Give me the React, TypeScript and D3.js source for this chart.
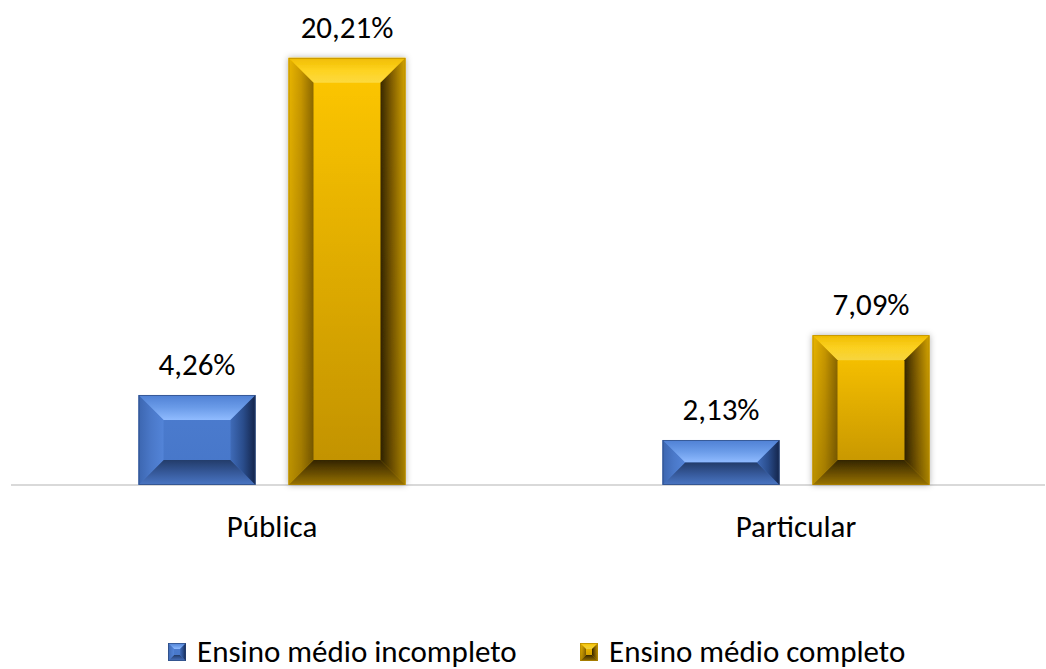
import React, { useEffect, useRef } from "react";
import * as d3 from "d3";

const categories = ["Pública", "Particular"];
const seriesNames = ["Ensino médio incompleto", "Ensino médio completo"];
const incompleto = [4.26, 2.13];
const completo = [20.21, 7.09];
const valueLabels = [["4,26%", "2,13%"], ["20,21%", "7,09%"]];

const width = 1046;
const height = 669;
const baseline = 485;
const font = "Carlito, Calibri, Lato, sans-serif";
const fontSize = 31;

// bevel colours: outer -> inner for each side
const palettes = [
  {
    key: "blue",
    top: ["#4f80d4", "#6a9be8", "#90bbff"],
    left: ["#3c66b0", "#4a78c8", "#5384d8"],
    right: ["#13244a", "#2a4d8c", "#3f6bb8"],
    bottom: ["#4a76c4", "#36599a", "#233c6a"],
    face: ["#4c7ccf", "#4676c8"],
    stroke: "#2a4678",
    shade: 0,
    shadow: false,
  },
  {
    key: "gold",
    top: ["#f0bc00", "#ffd420", "#ffdc40"],
    left: ["#eab600", "#c99800", "#8c6800"],
    right: ["#d4a400", "#8a6500", "#382800"],
    bottom: ["#bf9000", "#7e5d00", "#3e2c00"],
    face: ["#ffc800", "#efb400"],
    stroke: "#b08400",
    shade: 0.2,
    shadow: true,
  },
];

const App = () => {
  const ref = useRef<SVGSVGElement>(null);

  useEffect(() => {
    document.body.style.margin = "0";
    const svg = d3.select(ref.current);
    svg.selectAll("*").remove();

    const defs = svg.append("defs");
    const grad = (id: string, stops: string[], dir: number[], opac?: number[]) => {
      const g = defs
        .append("linearGradient")
        .attr("id", id)
        .attr("x1", dir[0])
        .attr("y1", dir[1])
        .attr("x2", dir[2])
        .attr("y2", dir[3]);
      stops.forEach((c, i) => {
        g.append("stop")
          .attr("offset", stops.length === 1 ? 0 : i / (stops.length - 1))
          .attr("stop-color", c)
          .attr("stop-opacity", opac ? opac[i] : 1);
      });
    };
    palettes.forEach(p => {
      grad(`${p.key}-top`, p.top, [0, 0, 0, 1]);
      grad(`${p.key}-bottom`, p.bottom, [0, 1, 0, 0]);
      grad(`${p.key}-left`, p.left, [0, 0, 1, 0]);
      grad(`${p.key}-right`, p.right, [1, 0, 0, 0]);
      grad(`${p.key}-face`, p.face, [0, 0, 0, 1]);
    });
    grad("shade", ["#000", "#000"], [0, 0, 0, 1], [0, 0.2]);

    const filter = defs
      .append("filter")
      .attr("id", "glow")
      .attr("x", "-20%")
      .attr("y", "-20%")
      .attr("width", "140%")
      .attr("height", "140%");
    filter.append("feDropShadow")
      .attr("dx", 0)
      .attr("dy", 0)
      .attr("stdDeviation", 3)
      .attr("flood-color", "#000")
      .attr("flood-opacity", 0.3);

    const x = d3.scaleBand().domain(categories).range([10, 1058]);
    const xSub = d3
      .scaleBand()
      .domain(seriesNames)
      .range([-133.5, 133.5])
      .paddingInner(0.22);
    const y = d3.scaleLinear().domain([0, 22]).range([baseline, 20]);

    const drawBevel = (
      g: any,
      x0: number,
      y0: number,
      w: number,
      h: number,
      bevel: number,
      p: any
    ) => {
      const x1 = x0 + w;
      const y1 = y0 + h;
      const b = Math.min(bevel, h / 2, w / 2);
      const bar = g.append("g");
      if (p.shadow) bar.attr("filter", "url(#glow)");
      const pts = (arr: number[][]) => arr.map(d => d.join(",")).join(" ");
      bar.append("rect")
        .attr("x", x0)
        .attr("y", y0)
        .attr("width", w)
        .attr("height", h)
        .attr("fill", `url(#${p.key}-face)`);
      bar.append("polygon")
        .attr("points", pts([[x0, y0], [x1, y0], [x1 - b, y0 + b], [x0 + b, y0 + b]]))
        .attr("fill", `url(#${p.key}-top)`);
      bar.append("polygon")
        .attr("points", pts([[x0, y1], [x1, y1], [x1 - b, y1 - b], [x0 + b, y1 - b]]))
        .attr("fill", `url(#${p.key}-bottom)`);
      bar.append("polygon")
        .attr("points", pts([[x0, y0], [x0 + b, y0 + b], [x0 + b, y1 - b], [x0, y1]]))
        .attr("fill", `url(#${p.key}-left)`);
      bar.append("polygon")
        .attr("points", pts([[x1, y0], [x1 - b, y0 + b], [x1 - b, y1 - b], [x1, y1]]))
        .attr("fill", `url(#${p.key}-right)`);
      if (p.shade > 0) {
        bar.append("rect")
          .attr("x", x0)
          .attr("y", y0)
          .attr("width", w)
          .attr("height", h)
          .attr("fill", "url(#shade)");
      }
      bar.append("rect")
        .attr("x", x0 + 0.5)
        .attr("y", y0 + 0.5)
        .attr("width", w - 1)
        .attr("height", h - 1)
        .attr("fill", "none")
        .attr("stroke", p.stroke)
        .attr("stroke-width", 0.8)
        .attr("stroke-opacity", 0.8);
    };

    // axis line
    svg.append("line")
      .attr("x1", 11)
      .attr("x2", 1045)
      .attr("y1", baseline)
      .attr("y2", baseline)
      .attr("stroke", "#d9d9d9")
      .attr("stroke-width", 2);

    const series = [incompleto, completo];
    const barsG = svg.append("g");
    series.forEach((vals, si) => {
      vals.forEach((v, ci) => {
        const cx = x(categories[ci])! + x.bandwidth() / 2;
        const bx = cx + xSub(seriesNames[si])!;
        const top = y(v);
        drawBevel(barsG, bx, top, xSub.bandwidth(), baseline - top, 25, palettes[si]);
        svg.append("text")
          .attr("x", bx + xSub.bandwidth() / 2)
          .attr("y", top - 20)
          .attr("text-anchor", "middle")
          .attr("font-family", font)
          .attr("font-size", fontSize)
          .attr("fill", "#000")
          .text(valueLabels[si][ci]);
      });
    });

    // category labels
    svg.selectAll(".cat")
      .data(categories)
      .enter()
      .append("text")
      .attr("x", d => x(d)! + x.bandwidth() / 2)
      .attr("y", 537)
      .attr("text-anchor", "middle")
      .attr("font-family", font)
      .attr("font-size", fontSize)
      .attr("fill", "#000")
      .text(d => d);

    // legend
    const legendX = [168, 580];
    seriesNames.forEach((name, i) => {
      const lg = svg.append("g");
      drawBevel(lg, legendX[i], 643, 18, 18, 6, { ...palettes[i], shadow: false });
      lg.append("text")
        .attr("x", legendX[i] + 29)
        .attr("y", 662)
        .attr("font-family", font)
        .attr("font-size", fontSize)
        .attr("fill", "#000")
        .text(name);
    });
  }, []);

  return <svg ref={ref} width={width} height={height} style={{ display: "block" }} />;
};

export default App;
